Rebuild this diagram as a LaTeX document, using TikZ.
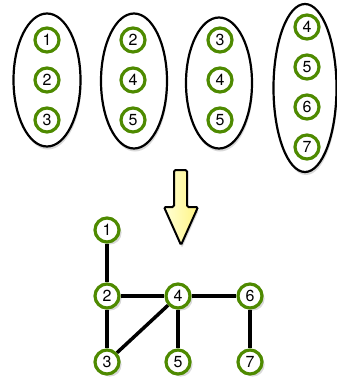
\documentclass[tikz,border=0pt]{standalone}
\usepackage{fontspec}
\setmainfont{TeX Gyre Heros}
\usetikzlibrary{shapes, shadows}

\definecolor{ringgreen}{RGB}{78,138,0}
\definecolor{palefill}{RGB}{255,255,215}
\definecolor{deepfill}{RGB}{255,244,130}

\begin{document}
\begin{tikzpicture}[x=1pt,y=-1pt,
    vert/.style={circle,draw=ringgreen,line width=3.2pt,fill=white,inner sep=0pt,minimum size=24pt,font=\fontsize{16}{16}\selectfont},
    bag/.style={ellipse,draw,line width=2.2pt,fill=white,inner sep=0pt,drop shadow={opacity=0.3,shadow xshift=1pt,shadow yshift=-3pt}},
    link/.style={line width=3.5pt}]
\useasboundingbox (0,0) rectangle (337,383);

% bags
\node (b1) [bag,minimum width=67pt,minimum height=133pt] at (47,80) {};
\node (b2) [bag,minimum width=66pt,minimum height=135pt] at (134,81) {};
\node (b3) [bag,minimum width=66pt,minimum height=131pt] at (219,83) {};
\node (b4) [bag,minimum width=63pt,minimum height=168pt] at (305,88) {};

\node (b1n1) [vert] at (47,40) {1};
\node (b1n2) [vert] at (47,80) {2};
\node (b1n3) [vert] at (47,120) {3};
\node (b2n2) [vert] at (133,40) {2};
\node (b2n4) [vert] at (133,80) {4};
\node (b2n5) [vert] at (133,120) {5};
\node (b3n3) [vert] at (220,40) {3};
\node (b3n4) [vert] at (220,80) {4};
\node (b3n5) [vert] at (220,120) {5};
\node (b4n4) [vert] at (307,27) {4};
\node (b4n5) [vert] at (307,67) {5};
\node (b4n6) [vert] at (307,107) {6};
\node (b4n7) [vert] at (307,147) {7};

% arrow
\draw[line width=2pt,rounded corners=1.5pt,left color=palefill,right color=deepfill,
    drop shadow={opacity=0.3,shadow xshift=1pt,shadow yshift=-3pt}]
    (174,170) -- (187,170) -- (187,207) -- (198,207) -- (181,245) -- (164,207) -- (174,207) -- cycle;

% graph
\node (v1) [vert,drop shadow={opacity=0.3}] at (107,230) {1};
\node (v2) [vert,drop shadow={opacity=0.3}] at (107,296) {2};
\node (v4) [vert,drop shadow={opacity=0.3}] at (178,296) {4};
\node (v6) [vert,drop shadow={opacity=0.3}] at (250,296) {6};
\node (v3) [vert,drop shadow={opacity=0.3}] at (107,362) {3};
\node (v5) [vert,drop shadow={opacity=0.3}] at (178,362) {5};
\node (v7) [vert,drop shadow={opacity=0.3}] at (250,362) {7};

\draw[link] (v1) -- (v2);
\draw[link] (v2) -- (v4);
\draw[link] (v2) -- (v3);
\draw[link] (v3) -- (v4);
\draw[link] (v4) -- (v6);
\draw[link] (v4) -- (v5);
\draw[link] (v6) -- (v7);
\end{tikzpicture}
\end{document}
